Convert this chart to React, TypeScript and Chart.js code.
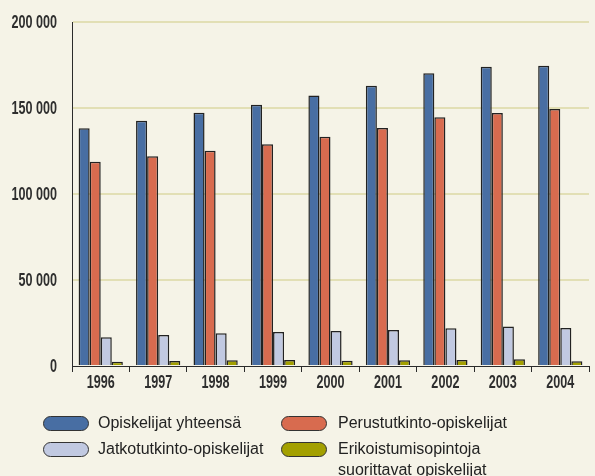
import React, { useEffect, useRef } from "react";
import { Chart, registerables } from "chart.js";

Chart.register(...registerables);

const years = ["1996", "1997", "1998", "1999", "2000", "2001", "2002", "2003", "2004"];
const total = [138200, 142600, 147300, 151900, 157200, 163000, 170200, 174000, 174600];
const basic = [118800, 121900, 125200, 128900, 133300, 138400, 144600, 147100, 149400];
const postgrad = [16700, 18000, 19000, 19800, 20300, 20900, 21900, 22900, 22100];
const special = [2500, 2900, 3300, 3500, 3100, 3300, 3500, 3900, 2800];
const yTicks = [0, 50000, 100000, 150000, 200000];

const seriesNames = [
  "Opiskelijat yhteensä",
  "Perustutkinto-opiskelijat",
  "Jatkotutkinto-opiskelijat",
  "Erikoistumisopintoja suorittavat opiskelijat",
];
const colors = ["#486ea3", "#d86b4f", "#c1c9e1", "#a3a000"];

const fmt = (v: number) => {
  const s = String(Math.round(v));
  return s.replace(/\B(?=(\d{3})+(?!\d))/g, " ");
};

const TICK_FONT = "bold 18px 'Liberation Sans', Arial, sans-serif";
const SQUEEZE = 0.7;

const condensedTicks = {
  id: "condensedTicks",
  afterDraw(chart: any) {
    const ctx = chart.ctx;
    const xs = chart.scales.x;
    const ys = chart.scales.y;
    ctx.save();
    ctx.fillStyle = "#2e2e2e";
    ctx.font = TICK_FONT;
    ctx.textBaseline = "middle";
    ctx.textAlign = "right";
    ys.ticks.forEach((t: any) => {
      const py = ys.getPixelForValue(t.value);
      ctx.save();
      ctx.translate(57, py + 1);
      ctx.scale(SQUEEZE, 1);
      ctx.fillText(fmt(t.value), 0, 0);
      ctx.restore();
    });
    ctx.textAlign = "center";
    const lbls = chart.data.labels as string[];
    lbls.forEach((l: string, i: number) => {
      const px = xs.getPixelForValue(i);
      ctx.save();
      ctx.translate(px, 383);
      ctx.scale(SQUEEZE, 1);
      ctx.fillText(l, 0, 0);
      ctx.restore();
    });
    ctx.restore();
  },
};

export default function App() {
  const ref = useRef<HTMLCanvasElement | null>(null);
  useEffect(() => {
    if (!ref.current) return;
    const data = [total, basic, postgrad, special];
    const chart = new Chart(ref.current, {
      type: "bar",
      data: {
        labels: years,
        datasets: data.map((d, i) => ({
          label: seriesNames[i],
          data: d,
          backgroundColor: colors[i],
          borderColor: "#222",
          borderWidth: 1.5,
          categoryPercentage: 0.77,
          barPercentage: 1,
        })),
      },
      options: {
        responsive: false,
        animation: false,
        layout: { padding: { left: 0, top: 22, right: 6, bottom: 80 } },
        plugins: { legend: { display: false }, tooltip: { enabled: false } },
        scales: {
          x: {
            offset: true,
            grid: {
              offset: true,
              drawOnChartArea: false,
              drawTicks: true,
              tickLength: 6,
              color: "#2b2b2b",
            },
            border: { color: "#2b2b2b", width: 1 },
            ticks: { display: false },
            afterFit: (s: any) => {
              s.height = 30;
            },
          },
          y: {
            min: 0,
            max: 200000,
            afterBuildTicks: (s: any) => {
              s.ticks = yTicks.map((v) => ({ value: v }));
            },
            grid: {
              color: (c: any) => (c.tick && c.tick.value === 0 ? "rgba(0,0,0,0)" : "#e2dfb5"),
              lineWidth: 2,
              drawTicks: false,
            },
            border: { color: "#2b2b2b", width: 1 },
            ticks: { display: false },
            afterFit: (s: any) => {
              s.width = 72;
            },
          },
        },
      },
      plugins: [condensedTicks],
    });
    return () => chart.destroy();
  }, []);

  const swatch = (c: string): React.CSSProperties => ({
    position: "absolute",
    width: 44,
    height: 13,
    borderRadius: 8,
    border: "1.5px solid #333",
    background: c,
  });
  const text: React.CSSProperties = {
    position: "absolute",
    fontFamily: "'Liberation Sans', Arial, sans-serif",
    fontSize: 16,
    lineHeight: "21px",
    color: "#222",
    whiteSpace: "nowrap",
  };

  return (
    <div
      style={{
        position: "fixed",
        left: 0,
        top: 0,
        width: 595,
        height: 476,
        background: "#f5f3e7",
        overflow: "hidden",
      }}
    >
      <canvas ref={ref} width={595} height={476} style={{ position: "absolute", left: 0, top: 0 }} />
      <div style={{ ...swatch(colors[0]), left: 43, top: 416 }} />
      <div style={{ ...text, left: 98, top: 412 }}>{seriesNames[0]}</div>
      <div style={{ ...swatch(colors[1]), left: 281, top: 416 }} />
      <div style={{ ...text, left: 338, top: 412 }}>{seriesNames[1]}</div>
      <div style={{ ...swatch(colors[2]), left: 43, top: 442 }} />
      <div style={{ ...text, left: 98, top: 438 }}>{seriesNames[2]}</div>
      <div style={{ ...swatch(colors[3]), left: 281, top: 442 }} />
      <div style={{ ...text, left: 338, top: 438, whiteSpace: "normal", width: 220 }}>
        Erikoistumisopintoja
        <br />
        suorittavat opiskelijat
      </div>
    </div>
  );
}
